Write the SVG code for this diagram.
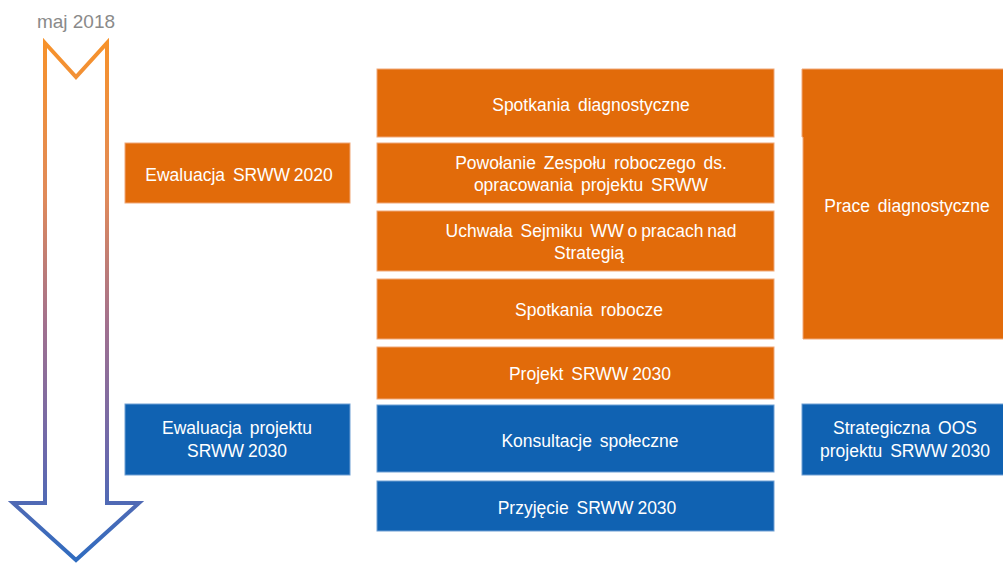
<svg xmlns="http://www.w3.org/2000/svg" width="1003" height="563" viewBox="0 0 1003 563">
<style>
.or{fill:#E26B0A;stroke:#F0A878;stroke-width:1}
.bl{fill:#1062B2;stroke:#6E9FD4;stroke-width:1}
.t{font-family:"Liberation Sans",Arial,sans-serif;font-size:17.5px;fill:#FFFFFF;text-anchor:middle;dominant-baseline:central;word-spacing:3px}
.n{word-spacing:-1px}
.d{font-family:"Liberation Sans",Arial,sans-serif;font-size:19px;fill:#8A8A8A;text-anchor:middle}
</style>
<defs>
<linearGradient id="ag" gradientUnits="userSpaceOnUse" x1="0" y1="40" x2="0" y2="562">
<stop offset="0" stop-color="#F7922A"/>
<stop offset="0.3" stop-color="#E08A5A"/>
<stop offset="0.55" stop-color="#A0708F"/>
<stop offset="0.8" stop-color="#6A68AC"/>
<stop offset="1" stop-color="#2E6CC0"/>
</linearGradient>
</defs>
<rect width="1003" height="563" fill="#FFFFFF"/>
<g id="timeline">
<text class="d" x="76" y="28">maj 2018</text>
<path d="M45,43 L76,77 L107,43 L107,503 L139,503 L76,560 L13,503 L45,503 Z" fill="none" stroke="url(#ag)" stroke-width="4" stroke-linejoin="miter"/>
</g>
<g id="n-spotkania-diag"><rect class="or" x="377" y="69" width="397" height="68"/><text class="t" x="591" y="105">Spotkania diagnostyczne</text></g>
<g id="n-powolanie"><rect class="or" x="377" y="143" width="397" height="60"/><text class="t" x="591" y="163">Powołanie Zespołu roboczego ds.</text><text class="t" x="591" y="185">opracowania projektu SRWW</text></g>
<g id="n-uchwala"><rect class="or" x="377" y="211" width="397" height="60"/><text class="t" x="591" y="231">Uchwała Sejmiku WW<tspan class="n"> o pracach nad</tspan></text><text class="t" x="589" y="253">Strategią</text></g>
<g id="n-spotkania-rob"><rect class="or" x="377" y="279" width="397" height="60"/><text class="t" x="589" y="310">Spotkania robocze</text></g>
<g id="n-projekt"><rect class="or" x="377" y="347" width="397" height="52"/><text class="t" x="590" y="374">Projekt <tspan class="n">SRWW 2030</tspan></text></g>
<g id="n-konsultacje"><rect class="bl" x="377" y="405" width="397" height="67"/><text class="t" x="590" y="441">Konsultacje społeczne</text></g>
<g id="n-przyjecie"><rect class="bl" x="377" y="481" width="397" height="50"/><text class="t" x="587" y="508">Przyjęcie <tspan class="n">SRWW 2030</tspan></text></g>
<g id="n-ewal-2020"><rect class="or" x="125" y="143" width="225" height="60"/><text class="t" x="239" y="175">Ewaluacja <tspan class="n">SRWW 2020</tspan></text></g>
<g id="n-ewal-proj"><rect class="bl" x="125" y="404" width="225" height="71"/><text class="t" x="237" y="428">Ewaluacja projektu</text><text class="t n" x="237" y="451">SRWW 2030</text></g>
<g id="n-prace"><path class="or" d="M802,69 L1004,69 L1004,339 L803,339 L803,137 L802,137 Z"/><text class="t" x="907" y="206">Prace diagnostyczne</text></g>
<g id="n-oos"><rect class="bl" x="802" y="404" width="202" height="71"/><text class="t" x="905" y="428">Strategiczna OOS</text><text class="t" x="905" y="451">projektu <tspan class="n">SRWW 2030</tspan></text></g>
<g id="connectors"></g>
</svg>
